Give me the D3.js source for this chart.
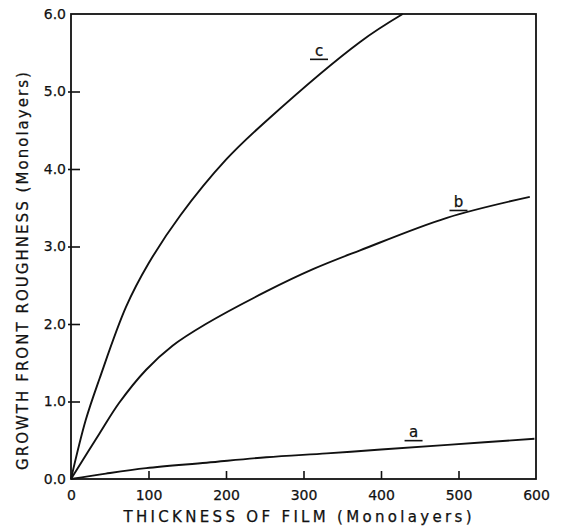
<!DOCTYPE html>
<html>
<head>
<meta charset="utf-8">
<script src="https://cdn.jsdelivr.net/npm/d3@7"></script>
<style>
  body { margin: 0; background: #fff; }
  text { font-family: "DejaVu Sans", sans-serif; fill: #111; stroke: #111; stroke-width: 0.25px; }
</style>
</head>
<body>
<script>
// curve data (thickness in monolayers, roughness in monolayers)
const curveAx = [0, 45, 97, 175, 252, 330, 400, 486, 598];
const curveAy = [0, 0.07, 0.14, 0.21, 0.28, 0.33, 0.38, 0.44, 0.52];
const curveBx = [0, 37, 62, 97, 131, 174, 252, 313, 373, 485, 592];
const curveBy = [0, 0.59, 0.98, 1.41, 1.72, 2.0, 2.42, 2.71, 2.95, 3.37, 3.64];
const curveCx = [0, 19, 37, 71, 100, 141, 200, 253, 373, 428];
const curveCy = [0, 0.76, 1.3, 2.22, 2.78, 3.4, 4.12, 4.63, 5.64, 6.0];
const curveNames = ['a', 'b', 'c'];
// label anchor (data coords of baseline centre)
const labelX = [442, 500, 320];
const labelY = [0.54, 3.51, 5.46];
const xTicks = [0, 100, 200, 300, 400, 500, 600];
const yTicks = [0, 1, 2, 3, 4, 5, 6];

const width = 562, height = 527;
const mLeft = 71, mRight = 536, mTop = 14, mBottom = 479;

const svg = d3.select('body').append('svg')
    .attr('width', width)
    .attr('height', height);

const x = d3.scaleLinear().domain([0, 600]).range([mLeft, mRight]);
const y = d3.scaleLinear().domain([0, 6]).range([mBottom, mTop]);

// x axis, ticks pointing inward
const xAxis = svg.append('g')
    .attr('transform', 'translate(0,' + mBottom + ')')
    .call(d3.axisBottom(x).tickValues(xTicks).tickSize(-8).tickPadding(11)
      .tickFormat(d3.format('d')));
xAxis.select('.domain').remove();
xAxis.selectAll('.tick line').attr('stroke', '#111').attr('stroke-width', 1.6)
    .filter(d => d === 0 || d === 600).remove();
xAxis.selectAll('.tick text').style('font-size', '14px').attr('fill', '#111');

const yAxis = svg.append('g')
    .attr('transform', 'translate(' + mLeft + ',0)')
    .call(d3.axisLeft(y).tickValues(yTicks).tickSize(-9).tickPadding(5)
      .tickFormat(d3.format('.1f')));
yAxis.select('.domain').remove();
yAxis.selectAll('.tick line').attr('stroke', '#111').attr('stroke-width', 1.6)
    .attr('x1', -3)
    .filter(d => d === 0 || d === 6).remove();
yAxis.selectAll('.tick text').style('font-size', '14px').attr('fill', '#111');

// frame
svg.append('rect')
    .attr('x', mLeft).attr('y', mTop)
    .attr('width', mRight - mLeft).attr('height', mBottom - mTop)
    .attr('fill', 'none').attr('stroke', '#111').attr('stroke-width', 1.8);

// curves
const series = [
  curveAx.map((d, i) => [d, curveAy[i]]),
  curveBx.map((d, i) => [d, curveBy[i]]),
  curveCx.map((d, i) => [d, curveCy[i]])
];
const line = d3.line()
    .x(d => x(d[0]))
    .y(d => y(d[1]))
    .curve(d3.curveCatmullRom.alpha(0.5));

svg.selectAll('.curve')
    .data(series)
    .enter().append('path')
    .attr('class', 'curve')
    .attr('d', line)
    .attr('fill', 'none')
    .attr('stroke', '#111')
    .attr('stroke-width', 1.9);

// underlined curve labels
const lab = svg.selectAll('.lab')
    .data(curveNames)
    .enter().append('g')
    .attr('class', 'lab')
    .attr('transform', (d, i) => 'translate(' + x(labelX[i]) + ',' + y(labelY[i]) + ')');
lab.append('text')
    .attr('text-anchor', 'middle')
    .style('font-size', '15px')
    .text(d => d);
lab.append('line')
    .attr('x1', -9).attr('x2', 9)
    .attr('y1', 3.5).attr('y2', 3.5)
    .attr('stroke', '#111').attr('stroke-width', 1.6);

// axis titles
svg.append('text')
    .attr('x', (mLeft + mRight) / 2 - 6)
    .attr('y', 522)
    .attr('text-anchor', 'middle')
    .attr('textLength', 348)
    .attr('lengthAdjust', 'spacing')
    .style('font-size', '15px')
    .text('THICKNESS OF FILM (Monolayers)');

svg.append('text')
    .attr('transform', 'translate(28,' + 271 + ') rotate(-90)')
    .attr('text-anchor', 'middle')
    .attr('textLength', 398)
    .attr('lengthAdjust', 'spacing')
    .style('font-size', '15px')
    .text('GROWTH FRONT ROUGHNESS (Monolayers)');
</script>
</body>
</html>
